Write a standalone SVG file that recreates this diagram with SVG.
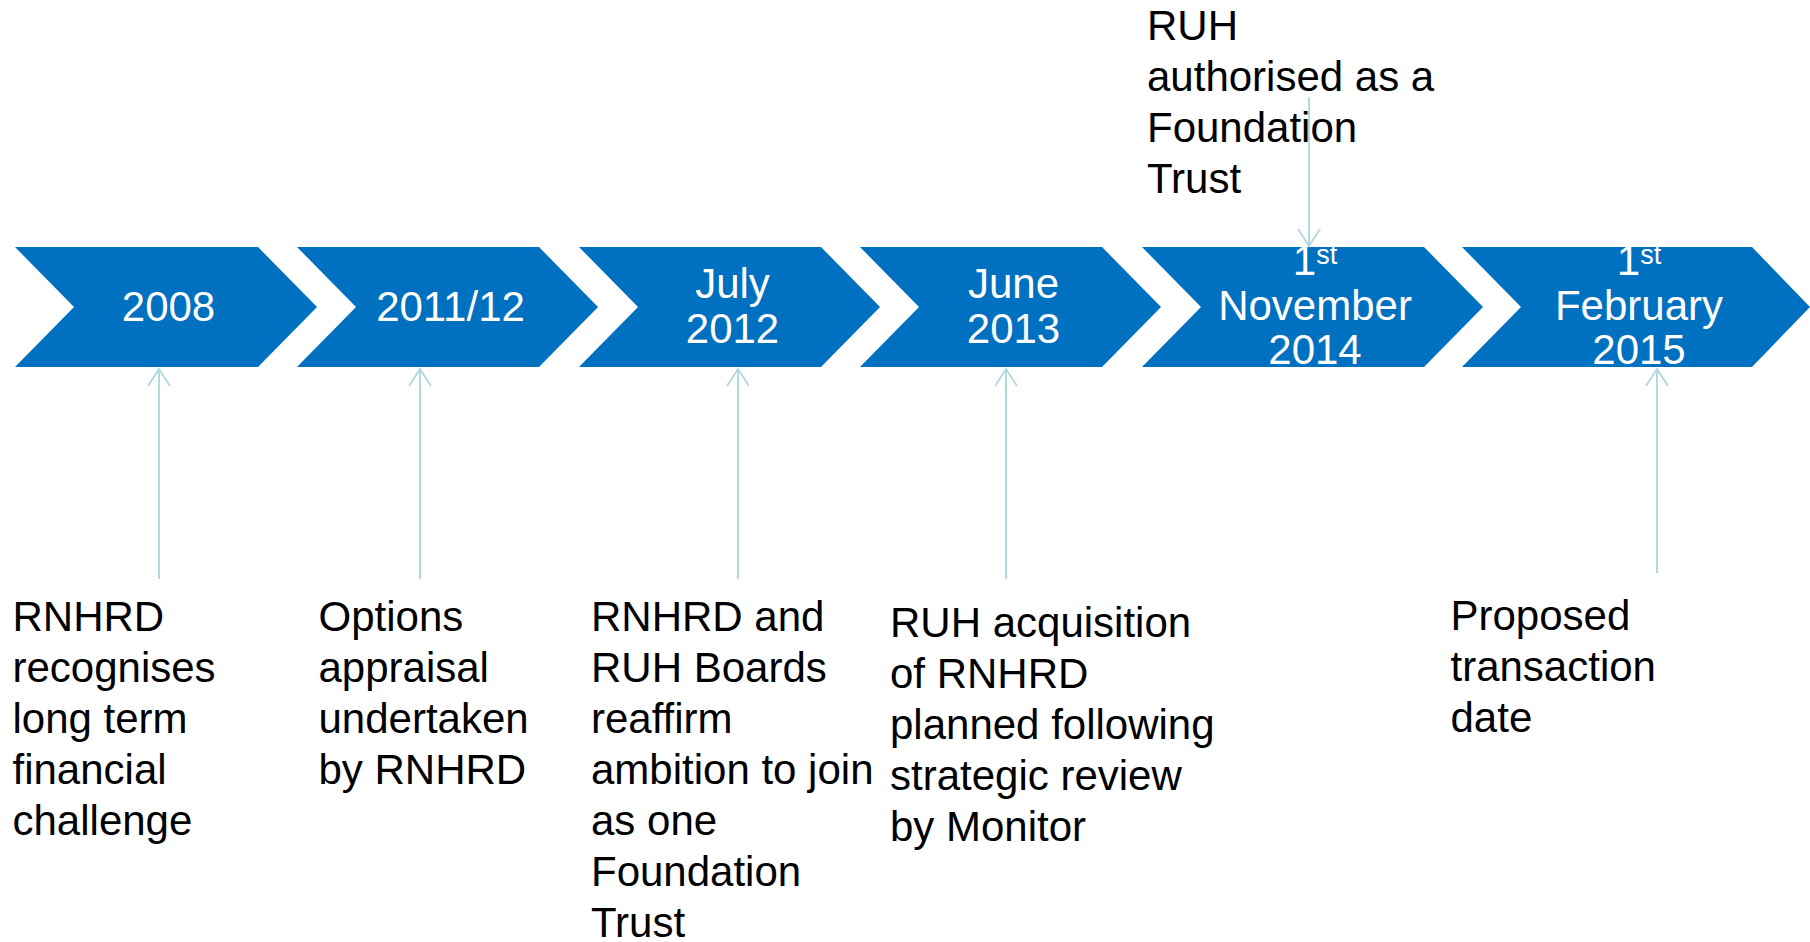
<svg xmlns="http://www.w3.org/2000/svg" width="1810" height="942" viewBox="0 0 1810 942">
<defs>
<style>
.chev{fill:#0070C0;}
.lbl{font-family:"Liberation Sans",Arial,sans-serif;font-size:42px;fill:#FFFFFF;text-anchor:middle;}
.sup{font-size:27px;}
.note{font-family:"Liberation Sans",Arial,sans-serif;font-size:42px;fill:#000000;}
.conn{stroke:#B0DADF;stroke-width:2;fill:none;marker-end:url(#ah);}
</style>
<marker id="ah" markerUnits="userSpaceOnUse" markerWidth="40" markerHeight="40" refX="0" refY="0" viewBox="-20 -20 40 40" orient="auto" overflow="visible">
<path d="M-17,-11 L0,0 L-17,11" fill="none" stroke="#B0DADF" stroke-width="2"/>
</marker>
</defs>
<rect width="1810" height="942" fill="#FFFFFF"/>

<g id="node-2008">
<polygon class="chev" points="15,247 258,247 317,307 258,367 15,367 74,307"/>
<text class="lbl" x="168.5" y="321">2008</text>
</g>
<g id="node-2011-12">
<polygon class="chev" points="297,247 539,247 598,307 539,367 297,367 356,307"/>
<text class="lbl" x="450.5" y="321">2011/12</text>
</g>
<g id="node-july-2012">
<polygon class="chev" points="579,247 821,247 880,307 821,367 579,367 638,307"/>
<text class="lbl" x="732.5" y="298">July</text>
<text class="lbl" x="732.5" y="343">2012</text>
</g>
<g id="node-june-2013">
<polygon class="chev" points="860,247 1102,247 1161,307 1102,367 860,367 919,307"/>
<text class="lbl" x="1013.5" y="298">June</text>
<text class="lbl" x="1013.5" y="343">2013</text>
</g>
<g id="node-nov-2014">
<polygon class="chev" points="1142,247 1424,247 1483,307 1424,367 1142,367 1201,307"/>
<text class="lbl" x="1315" y="275">1<tspan class="sup" dy="-11">st</tspan></text>
<text class="lbl" x="1315" y="320">November</text>
<text class="lbl" x="1315" y="364">2014</text>
</g>
<g id="node-feb-2015">
<polygon class="chev" points="1462,247 1752,247 1810,307 1752,367 1462,367 1521,307"/>
<text class="lbl" x="1639" y="275">1<tspan class="sup" dy="-11">st</tspan></text>
<text class="lbl" x="1639" y="320">February</text>
<text class="lbl" x="1639" y="364">2015</text>
</g>

<g id="note-2008">
<text class="note" x="12.5" y="631">RNHRD</text>
<text class="note" x="12.5" y="682">recognises</text>
<text class="note" x="12.5" y="733">long term</text>
<text class="note" x="12.5" y="784">financial</text>
<text class="note" x="12.5" y="835">challenge</text>
</g>
<g id="note-2011-12">
<text class="note" x="318.5" y="631">Options</text>
<text class="note" x="318.5" y="682">appraisal</text>
<text class="note" x="318.5" y="733">undertaken</text>
<text class="note" x="318.5" y="784">by RNHRD</text>
</g>
<g id="note-july-2012">
<text class="note" x="591" y="631">RNHRD and</text>
<text class="note" x="591" y="682">RUH Boards</text>
<text class="note" x="591" y="733">reaffirm</text>
<text class="note" x="591" y="784">ambition to join</text>
<text class="note" x="591" y="835">as one</text>
<text class="note" x="591" y="886">Foundation</text>
<text class="note" x="591" y="937">Trust</text>
</g>
<g id="note-june-2013">
<text class="note" x="890" y="637">RUH acquisition</text>
<text class="note" x="890" y="688">of RNHRD</text>
<text class="note" x="890" y="739">planned following</text>
<text class="note" x="890" y="790">strategic review</text>
<text class="note" x="890" y="841">by Monitor</text>
</g>
<g id="note-nov-2014">
<text class="note" x="1147" y="40">RUH</text>
<text class="note" x="1147" y="91">authorised as a</text>
<text class="note" x="1147" y="142">Foundation</text>
<text class="note" x="1147" y="193">Trust</text>
</g>
<g id="note-feb-2015">
<text class="note" x="1450.5" y="630">Proposed</text>
<text class="note" x="1450.5" y="681">transaction</text>
<text class="note" x="1450.5" y="732">date</text>
</g>

<g id="connectors">
<line class="conn" x1="159" y1="579" x2="159" y2="369"/>
<line class="conn" x1="420" y1="579" x2="420" y2="369"/>
<line class="conn" x1="738" y1="579" x2="738" y2="369"/>
<line class="conn" x1="1006" y1="579" x2="1006" y2="369"/>
<line class="conn" x1="1657" y1="573" x2="1657" y2="369"/>
<line class="conn" x1="1309" y1="97" x2="1309" y2="246"/>
</g>
</svg>
